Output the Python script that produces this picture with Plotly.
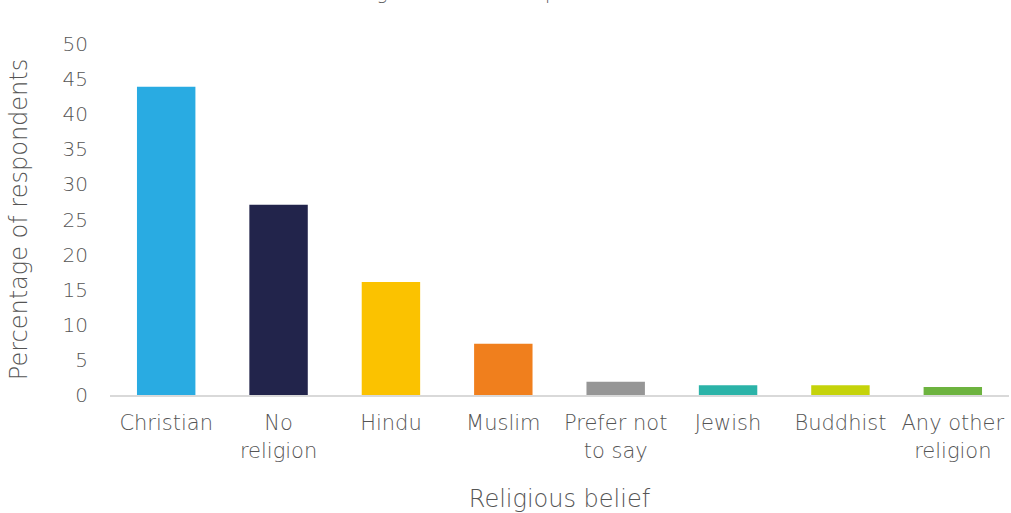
import plotly.graph_objects as go

# Survey responses by religious belief
categories = ["Christian", "No<br>religion", "Hindu", "Muslim",
              "Prefer not<br>to say", "Jewish", "Buddhist", "Any other<br>religion"]
percentages = [43.9, 27.1, 16.1, 7.3, 1.9, 1.4, 1.4, 1.15]
bar_colors = ["#29ABE2", "#22244B", "#FBC200", "#F07F1D",
              "#969696", "#2BB3A8", "#C5D30A", "#6DB33F"]
y_ticks = [0, 5, 10, 15, 20, 25, 30, 35, 40, 45, 50]

FONT = "DejaVu Sans"
GREY = "#555555"
LIGHT = 200

fig = go.Figure(
    go.Bar(
        x=categories,
        y=percentages,
        marker=dict(color=bar_colors, line=dict(width=0)),
        hoverinfo="x+y",
    )
)

fig.update_layout(
    width=1011,
    height=513,
    margin=dict(l=110, r=2, t=44, b=118),
    paper_bgcolor="white",
    plot_bgcolor="white",
    bargap=0.48,
    showlegend=False,
    font=dict(family=FONT, color=GREY, size=20, weight=LIGHT),
    xaxis=dict(
        showline=True,
        linecolor="#D9D9D9",
        linewidth=2,
        ticks="",
        ticklabelstandoff=8,
        tickfont=dict(size=21, color=GREY, weight=LIGHT),
        title=dict(text="Religious belief", font=dict(size=24, color=GREY, weight=LIGHT), standoff=30),
    ),
    yaxis=dict(
        range=[0, 50],
        tickvals=y_ticks,
        showgrid=False,
        zeroline=False,
        showline=False,
        ticks="",
        ticklabelstandoff=21,
        tickfont=dict(size=20, color=GREY, weight=LIGHT),
        title=dict(text="Percentage of respondents", font=dict(size=24, color=GREY, weight=LIGHT), standoff=28),
    ),
    annotations=[
        dict(
            text="Religious belief of respondents",
            xref="paper", yref="paper",
            x=0.42, y=1.11,
            xanchor="center", yanchor="bottom",
            showarrow=False,
            font=dict(size=19, color=GREY, family=FONT, weight=LIGHT),
        )
    ],
)

fig.write_html("out.html")
